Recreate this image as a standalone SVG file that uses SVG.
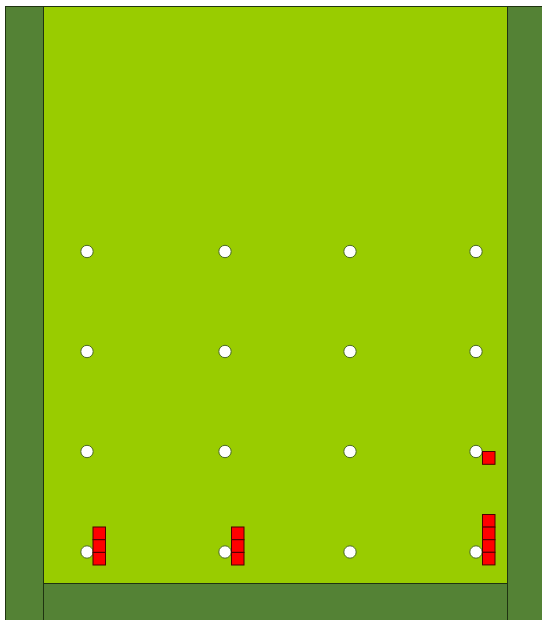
<svg xmlns="http://www.w3.org/2000/svg" width="542" height="620" viewBox="0 0 542 620">
<style>
.dark{fill:#548235;stroke:#1f3310;stroke-width:1}
.field{fill:#99CC00;stroke:#1f3310;stroke-width:1}
.peg{fill:#ffffff;stroke:#4a6a20;stroke-width:1}
.blk{fill:#ff0000;stroke:#4a0000;stroke-width:1}
</style>
<rect width="542" height="620" fill="#ffffff"/>
<g id="frame">
<rect class="dark" x="5.5" y="6.5" width="38" height="620"/>
<rect class="dark" x="507.5" y="6.5" width="40" height="620"/>
<rect class="dark" x="43.5" y="583.5" width="464" height="40"/>
<rect class="field" x="43.5" y="6.5" width="464" height="577"/>
</g>
<g id="pegs">
<circle class="peg" cx="87" cy="251.5" r="6.2"/><circle class="peg" cx="225" cy="251.5" r="6.2"/><circle class="peg" cx="350" cy="251.5" r="6.2"/><circle class="peg" cx="476" cy="251.5" r="6.2"/>
<circle class="peg" cx="87" cy="351.5" r="6.2"/><circle class="peg" cx="225" cy="351.5" r="6.2"/><circle class="peg" cx="350" cy="351.5" r="6.2"/><circle class="peg" cx="476" cy="351.5" r="6.2"/>
<circle class="peg" cx="87" cy="451.5" r="6.2"/><circle class="peg" cx="225" cy="451.5" r="6.2"/><circle class="peg" cx="350" cy="451.5" r="6.2"/><circle class="peg" cx="476" cy="451.5" r="6.2"/>
<circle class="peg" cx="87" cy="552" r="6.2"/><circle class="peg" cx="225" cy="552" r="6.2"/><circle class="peg" cx="350" cy="552" r="6.2"/><circle class="peg" cx="476" cy="552" r="6.2"/>
</g>
<g id="stack1">
<rect class="blk" x="93" y="527" width="12.5" height="12.7"/>
<rect class="blk" x="93" y="539.7" width="12.5" height="12.7"/>
<rect class="blk" x="93" y="552.4" width="12.5" height="12.6"/>
</g>
<g id="stack2">
<rect class="blk" x="231.5" y="527" width="12.5" height="12.7"/>
<rect class="blk" x="231.5" y="539.7" width="12.5" height="12.7"/>
<rect class="blk" x="231.5" y="552.4" width="12.5" height="12.6"/>
</g>
<g id="stack3">
<rect class="blk" x="482.5" y="514.5" width="12.5" height="12.6"/>
<rect class="blk" x="482.5" y="527.1" width="12.5" height="12.6"/>
<rect class="blk" x="482.5" y="539.7" width="12.5" height="12.6"/>
<rect class="blk" x="482.5" y="552.3" width="12.5" height="12.6"/>
</g>
<g id="single">
<rect class="blk" x="482.5" y="451.5" width="12.5" height="12.8"/>
</g>
<g id="connectors"></g>
</svg>
